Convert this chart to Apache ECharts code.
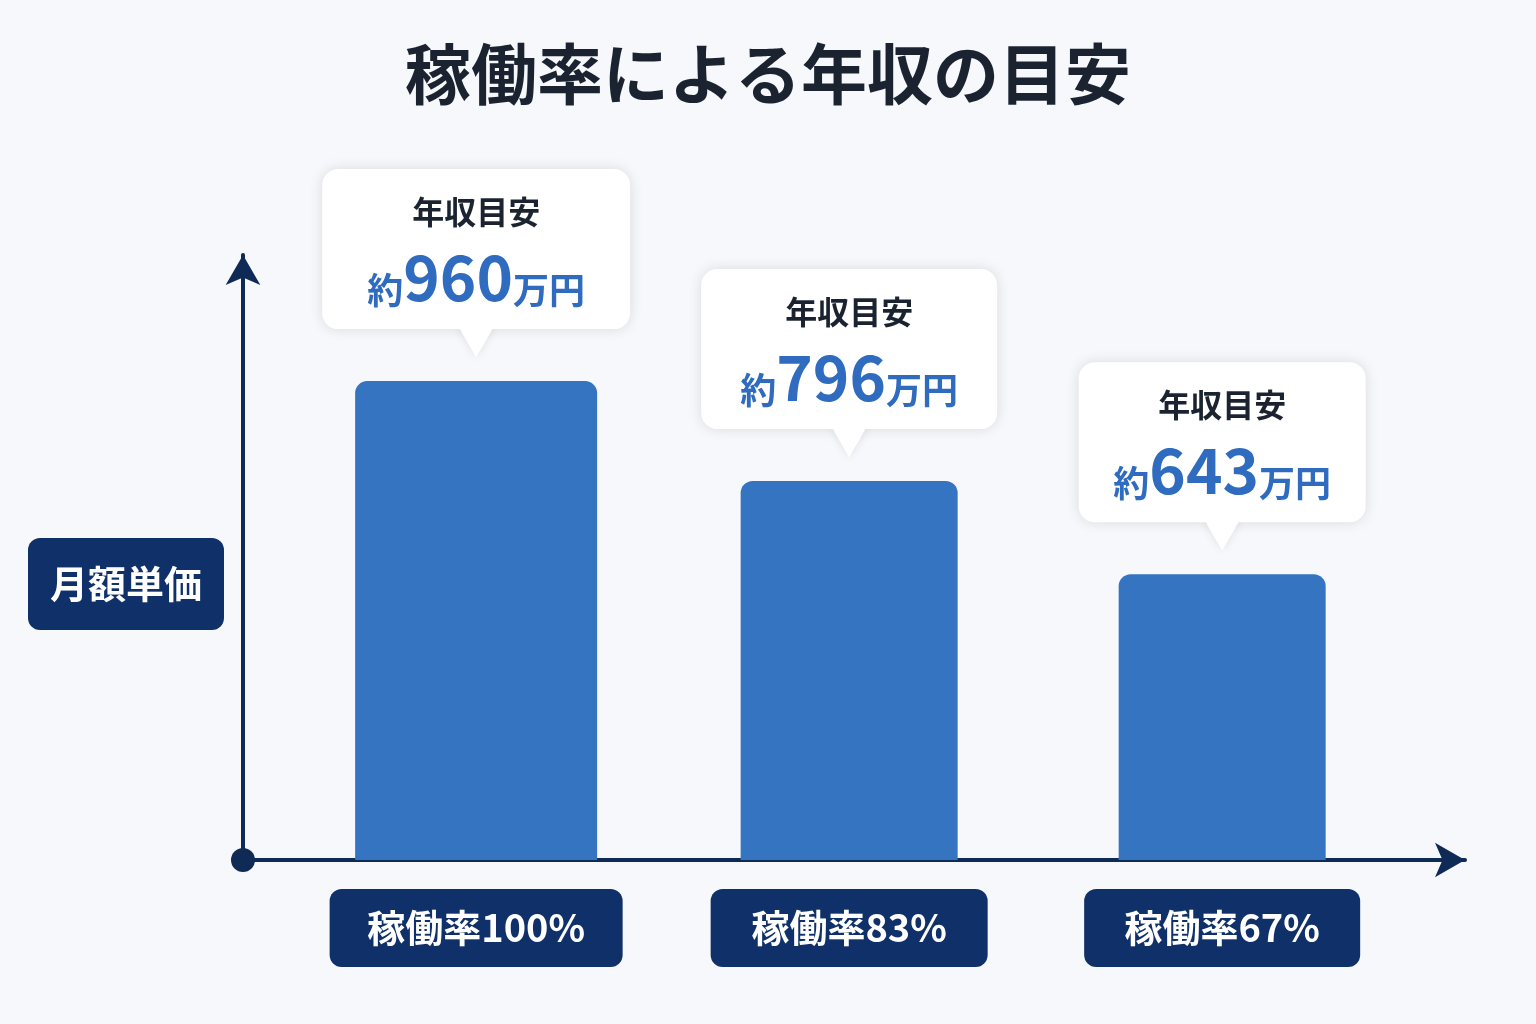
<!DOCTYPE html>
<html><head><meta charset="utf-8">
<script src="https://cdn.jsdelivr.net/npm/echarts@6/dist/echarts.min.js"></script>
<style>html,body{margin:0;background:#f6f8fb}#c{width:1536px;height:1024px}</style></head>
<body><div id="c"></div>
<script>
const categories = ['稼働率100%', '稼働率83%', '稼働率67%'];
const annualIncome = [960, 796, 643];
const calloutTitle = '年収目安';
const yAxisName = '月額単価';
const chartTitle = '稼働率による年収の目安';

const FONT = '"Noto Sans CJK JP","Noto Sans",sans-serif';
const barW = [242, 217, 207];
const boxW = [308, 296, 287];
const labW = [293, 277, 276];
const Y0 = 174;
const chart = echarts.init(document.getElementById('c'));
chart.setOption({
  backgroundColor: '#f6f8fb',
  title: { text: chartTitle, left: 'center', top: 36,
    textStyle: { fontFamily: FONT, fontSize: 66, fontWeight: 'bold', color: '#1b2330' } },
  grid: { left: 243, right: 71, top: 255, bottom: 164 },
  xAxis: { type: 'value', min: 0.375, max: 3.651, splitLine: { show: false },
    axisLabel: { show: false }, axisTick: { show: false },
    axisLine: { lineStyle: { color: '#0f2a55', width: 4 }, symbol: ['none', 'arrow'], symbolSize: [26, 30] } },
  yAxis: { type: 'value', min: Y0, max: 1167, splitLine: { show: false },
    axisLabel: { show: false }, axisTick: { show: false },
    axisLine: { onZero: false, lineStyle: { color: '#0f2a55', width: 4 }, symbol: ['none', 'arrow'], symbolSize: [26, 30] } },
  graphic: [{ type: 'group', left: 28, top: 538, children: [
    { type: 'rect', shape: { width: 196, height: 92, r: 12 }, style: { fill: '#0f3068' } },
    { type: 'text', x: 98, y: 46, style: { text: yAxisName, fill: '#fff', font: 'bold 38px ' + FONT, align: 'center', verticalAlign: 'middle' } }
  ] }],
  series: [{
    type: 'custom', clip: false,
    data: annualIncome.map((v, i) => [i + 1, v]),
    renderItem: function (params, api) {
      const i = params.dataIndex;
      const top = api.coord([api.value(0), api.value(1)]);
      const base = api.coord([api.value(0), Y0]);
      const cx = top[0], ty = top[1], by = base[1];
      const bw = barW[i], cw = boxW[i], lw = labW[i];
      const boxBottom = ty - 52, boxTop = boxBottom - 160, tip = ty - 24;
      const ch = [
        { type: 'rect', shape: { x: cx - bw / 2, y: ty, width: bw, height: by - ty, r: [12, 12, 0, 0] }, style: { fill: '#3574c0' } },
        { type: 'polygon', shape: { points: [[cx - 18, boxBottom - 2], [cx + 18, boxBottom - 2], [cx, tip]] },
          style: { fill: '#fff', shadowBlur: 10, shadowColor: 'rgba(0,0,0,0.10)' } },
        { type: 'rect', shape: { x: cx - cw / 2, y: boxTop, width: cw, height: 160, r: 16 },
          style: { fill: '#fff', shadowBlur: 14, shadowColor: 'rgba(0,0,0,0.12)' } },
        { type: 'polygon', shape: { points: [[cx - 18, boxBottom - 4], [cx + 18, boxBottom - 4], [cx, tip]] }, style: { fill: '#fff' } },
        { type: 'text', x: cx, y: boxTop + 43, style: { text: calloutTitle, font: 'bold 32px ' + FONT, fill: '#1b2330', align: 'center', verticalAlign: 'middle' } },
        { type: 'text', x: cx, y: boxTop + 108, style: {
          text: '{a|約}{b|' + annualIncome[i] + '}{a|万円}', align: 'center', verticalAlign: 'middle',
          rich: { a: { fontFamily: FONT, fontSize: 36, fontWeight: 'bold', fill: '#2f6bbf', color: '#2f6bbf', verticalAlign: 'bottom' },
                  b: { fontFamily: FONT, fontSize: 62, fontWeight: 'bold', fill: '#2f6bbf', color: '#2f6bbf', verticalAlign: 'bottom' } } } },
        { type: 'rect', shape: { x: cx - lw / 2, y: by + 29, width: lw, height: 78, r: 12 }, style: { fill: '#0f3068' } },
        { type: 'text', x: cx, y: by + 68, style: { text: categories[i], font: 'bold 38px ' + FONT, fill: '#fff', align: 'center', verticalAlign: 'middle' } }
      ];
      if (i === 0) {
        const o = api.coord([0.375, Y0]);
        ch.push({ type: 'circle', shape: { cx: o[0], cy: o[1], r: 12 }, style: { fill: '#0f2a55' } });
      }
      return { type: 'group', children: ch };
    }
  }]
});
</script></body></html>
